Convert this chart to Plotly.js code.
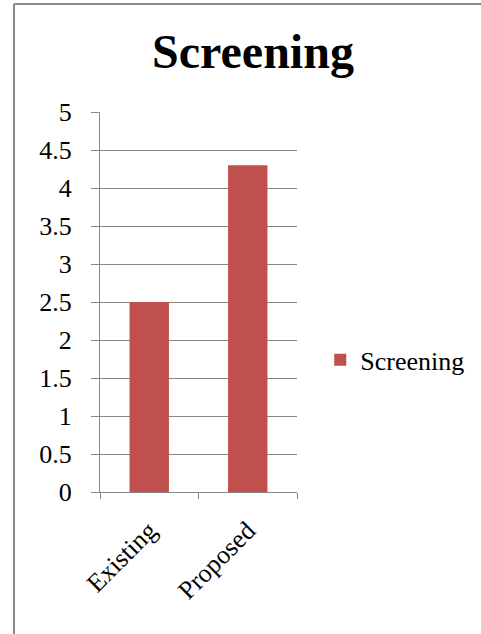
<!DOCTYPE html>
<html>
<head>
<meta charset="utf-8">
<script src="https://cdn.plot.ly/plotly-3.0.1.min.js"></script>
<style>
html,body{margin:0;padding:0;background:#fff;}
#chart{width:481px;height:634px;}
</style>
</head>
<body>
<div id="chart"></div>
<script>
const categories = ["Existing", "Proposed"];
const screeningValues = [2.5, 4.3];
const seriesName = "Screening";
const chartTitle = "Screening";
const yTickValues = [0, 0.5, 1, 1.5, 2, 2.5, 3, 3.5, 4, 4.5, 5];

const font = "Liberation Serif";
const grid = "#878787";

const trace = {
  type: "bar",
  x: categories,
  y: screeningValues,
  name: seriesName,
  marker: {color: "#C0504D"},
  showlegend: true,
  hoverinfo: "none"
};

const layout = {
  width: 481,
  height: 634,
  margin: {l: 100, r: 184, t: 112, b: 142, pad: 0, autoexpand: false},
  paper_bgcolor: "#fff",
  plot_bgcolor: "#fff",
  font: {family: font, size: 26, color: "#000"},
  title: {
    text: "<b>" + chartTitle + "</b>",
    font: {family: font, size: 48, color: "#000"},
    x: 253 / 481, xanchor: "center",
    xref: "container", yref: "container",
    y: 1 - 51 / 634, yanchor: "middle"
  },
  bargap: 0.6,
  showlegend: true,
  legend: {
    x: 1.118, xanchor: "left",
    y: 0.348, yanchor: "middle",
    font: {family: font, size: 26, color: "#000"},
    bgcolor: "rgba(0,0,0,0)"
  },
  xaxis: {
    type: "category",
    showgrid: false,
    showline: true, linecolor: grid, linewidth: 1,
    ticks: "outside", tickson: "boundaries", ticklen: 6, tickcolor: grid, tickwidth: 1,
    tickangle: -45,
    ticklabelstandoff: 12,
    tickfont: {family: font, size: 26, color: "#000"},
    zeroline: false,
    fixedrange: true
  },
  yaxis: {
    range: [0, 5],
    tickvals: yTickValues,
    showgrid: true, gridcolor: grid, gridwidth: 1,
    showline: true, linecolor: grid, linewidth: 1,
    ticks: "outside", ticklen: 8, tickcolor: grid, tickwidth: 1,
    ticklabelstandoff: 14,
    tickfont: {family: font, size: 26, color: "#000"},
    zeroline: false,
    fixedrange: true
  },
  shapes: [
    {type: "line", xref: "paper", yref: "paper",
     x0: (14 - 100) / 197, x1: (14 - 100) / 197, y0: (492 - 4) / 380, y1: (492 - 640) / 380,
     line: {color: "#8a8a8a", width: 2}},
    {type: "line", xref: "paper", yref: "paper",
     x0: (14 - 100) / 197, x1: (490 - 100) / 197, y0: (492 - 4) / 380, y1: (492 - 4) / 380,
     line: {color: "#8a8a8a", width: 2}}
  ]
};

Plotly.newPlot("chart", [trace], layout, {displayModeBar: false, staticPlot: true});
</script>
</body>
</html>
